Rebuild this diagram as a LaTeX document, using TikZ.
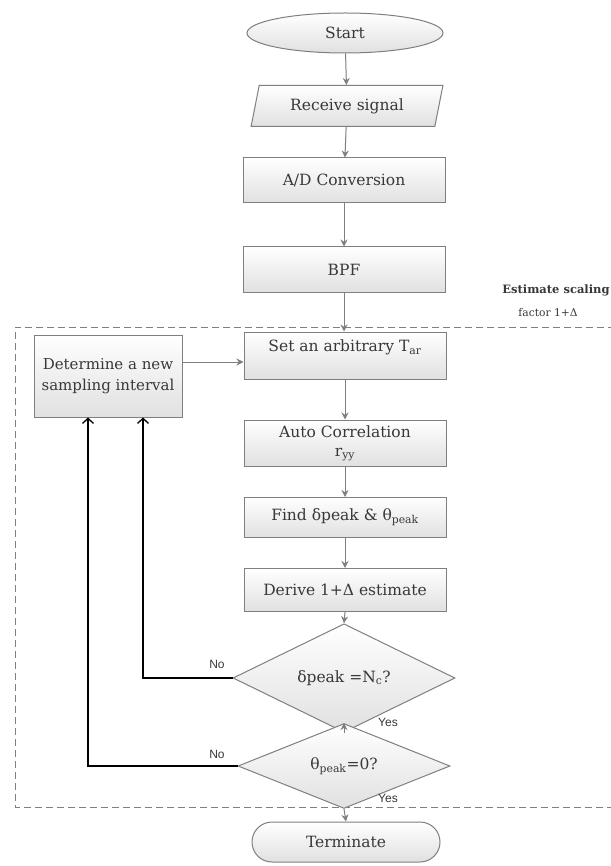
\documentclass[tikz,border=0pt]{standalone}
\usepackage{fontspec}
\setmainfont{DejaVu Serif}
\newfontfamily\lblfont{Liberation Sans}
\usetikzlibrary{shapes.geometric,arrows.meta}
\definecolor{edge}{HTML}{7F7F7F}
\definecolor{txt}{HTML}{383838}
\tikzset{
 base/.style={draw=edge, line width=1pt, top color=white, bottom color=black!12, text=txt, font=\fontsize{15.5}{19}\selectfont, inner sep=0pt, align=center},
 proc/.style={base, rectangle, minimum width=202pt},
 flow/.style={draw=edge, line width=1pt, -{Stealth[length=7pt,width=7pt]}},
 back/.style={draw=black, line width=1.3pt, -{Straight Barb[length=5pt,width=11pt]}},
 dashbox/.style={draw=edge, line width=1pt, dash pattern=on 7pt off 4pt},
 yn/.style={font=\lblfont\fontsize{12}{14}\selectfont, text=txt},
 side/.style={text=txt, font=\fontsize{10.7}{12}\selectfont},
}
\begin{document}
\begin{tikzpicture}[x=1pt,y=-1pt]
\useasboundingbox (0,0) rectangle (610,866);
\fill[white] (0,0) rectangle (610,866);
% dashed frame
\draw[dashbox] (615,327) -- (15,327) -- (15,807) -- (615,807);
% nodes
\node[base, ellipse, minimum width=196pt, minimum height=40pt] (start) at (345,33) {Start};
\node[base, trapezium, trapezium left angle=71, trapezium right angle=109, trapezium stretches=true, minimum width=192pt, minimum height=41pt] (recv) at (347,106) {Receive signal};
\node[proc, minimum height=45pt] (ad) at (344,180.5) {A/D Conversion};
\node[proc, minimum height=45pt] (bpf) at (344,269.5) {BPF};
\node[proc, minimum height=47pt] (set) at (345,355.5) {Set an arbitrary T\textsubscript{ar}\\ \mbox{}};
\node[proc, minimum height=46pt] (auto) at (345,443) {Auto Correlation\\ r\textsubscript{yy}};
\node[proc, minimum height=40pt] (find) at (345,517.5) {Find δpeak \& θ\textsubscript{peak}};
\node[proc, minimum height=43pt] (der) at (345,590) {Derive 1+Δ estimate};
\node[base, diamond, minimum width=222pt, minimum height=63pt] (d1) at (344,678) {δpeak =N\textsubscript{c}?};
\node[base, diamond, minimum width=212pt, minimum height=58pt] (d2) at (344,766) {θ\textsubscript{peak}=0?};
\node[base, rectangle, rounded corners=20pt, minimum width=188pt, minimum height=40pt] (term) at (346,842) {Terminate};
\node[base, rectangle, minimum width=148pt, minimum height=82pt, font=\fontsize{15}{21}\selectfont] (det) at (108,376) {Determine a new\\sampling interval};
% side labels
\node[side, font=\bfseries\fontsize{11.5}{13}\selectfont] (est) at (556,290) {Estimate scaling};
\node[side] (fac) at (548,313) {factor 1+Δ};
\node[yn] (no1) at (217,664) {No};
\node[yn] (no2) at (217,754) {No};
\node[yn] (yes1) at (388,722) {Yes};
\node[yn] (yes2) at (388,798) {Yes};
% connectors
\draw[flow] (start) -- (recv);
\draw[flow] (recv) -- (ad);
\draw[flow] (ad) -- (bpf);
\draw[flow] (bpf.south) -- (bpf.south |- set.north);
\draw[flow] (set) -- (auto);
\draw[flow] (auto) -- (find);
\draw[flow] (find) -- (der);
\draw[flow] (der.south) -- (d1.north);
\draw[flow] (d1.south) -- (d2.north);
\draw[flow] (d2.south) -- (term.north);
\coordinate (dj) at ([yshift=14pt]det.east);
\draw[flow] (dj) -- (dj -| set.west);
\draw[back] (d1.west) -| ([xshift=35pt]det.south);
\draw[back] (d2.west) -| ([xshift=-20pt]det.south);
\end{tikzpicture}
\end{document}
